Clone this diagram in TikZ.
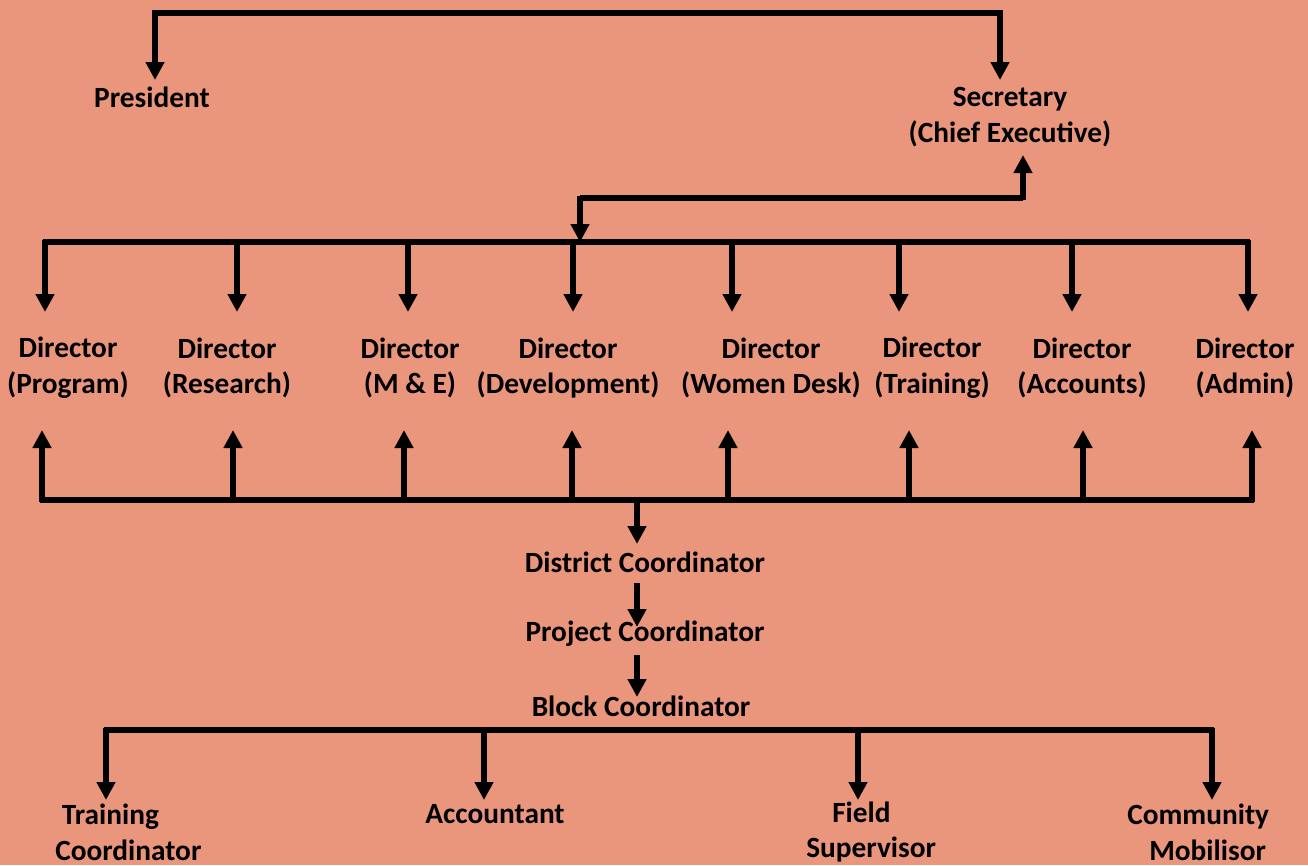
\documentclass[tikz,border=0pt]{standalone}
\usepackage{fontspec}
\setmainfont{Carlito}
\usetikzlibrary{arrows.meta}
\begin{document}
\begin{tikzpicture}[x=0.75pt,y=-0.75pt,
  conn/.style={line width=4.4pt,line join=miter},
  arr/.style={conn,-{Triangle[width=13.5pt,length=13.5pt]}},
  lbl/.style={font=\fontsize{22}{26.8}\selectfont\bfseries,align=center,inner sep=0pt}]
\fill[fill={rgb,255:red,234;green,150;blue,124}] (0,0) rectangle (1308,865);
\useasboundingbox (0,0) rectangle (1308,865);
% nodes
\node[lbl] (pres) at (152,97) {President};
\node[lbl] (sec) at (1010,117) {Secretary\\(Chief Executive)};
\node[lbl] (d1) at (68,368) {Director\\(Program)};
\node[lbl] (d2) at (227,368) {Director\\(Research)};
\node[lbl] (d3) at (410,368) {Director\\(M \& E)};
\node[lbl] (d4) at (568,368) {Director\\(Development)};
\node[lbl] (d5) at (771,368) {Director\\(Women Desk)};
\node[lbl] (d6) at (932,368) {Director\\(Training)};
\node[lbl] (d7) at (1082,368) {Director\\(Accounts)};
\node[lbl] (d8) at (1245,368) {Director\\(Admin)};
\node[lbl] (dc) at (645,562) {District Coordinator};
\node[lbl] (pc) at (645,634) {Project Coordinator};
\node[lbl] (bc) at (641,706) {Block Coordinator};
\node[lbl,align=left,anchor=west] (tc) at (55,832) {\hspace*{5pt}Training\\Coordinator};
\node[lbl] (ac) at (495,814) {Accountant};
\node[lbl,align=left,anchor=west] (fs) at (806,832) {\hspace*{19.5pt}Field\\Supervisor};
\node[lbl,align=left,anchor=west] (cm) at (1127,832) {Community\\\hspace*{16.5pt}Mobilisor};
% top connector
\draw[arr] (1000,40) -- (1000,13) -- (155,13) -- (155,80);
\draw[arr] (1000,13) -- (1000,80);
% secretary to directors
\draw[arr] (1023,200) -- (1023,155);
\draw[conn] (1023,198) -- (580,198);
\draw[arr] (580,196) -- (580,242);
% director bus down
\draw[conn] (43,242) -- (1250,242);
\foreach \x in {45,237,408,573,732,899,1072,1248}
  \draw[arr] (\x,240) -- (\x,312);
% bottom bus up
\draw[conn] (40,500) -- (1254,500);
\foreach \x in {42,233,404,572,728,909,1083,1252}
  \draw[arr] (\x,502) -- (\x,430);
% chain
\draw[arr] (637,498) -- (637,544);
\draw[arr] (637,583) -- (637,627);
\draw[arr] (637,655) -- (637,697);
% block bus
\draw[conn] (104,730) -- (1214,730);
\foreach \x in {106,484,858,1212}
  \draw[arr] (\x,728) -- (\x,800);
\end{tikzpicture}
\end{document}
